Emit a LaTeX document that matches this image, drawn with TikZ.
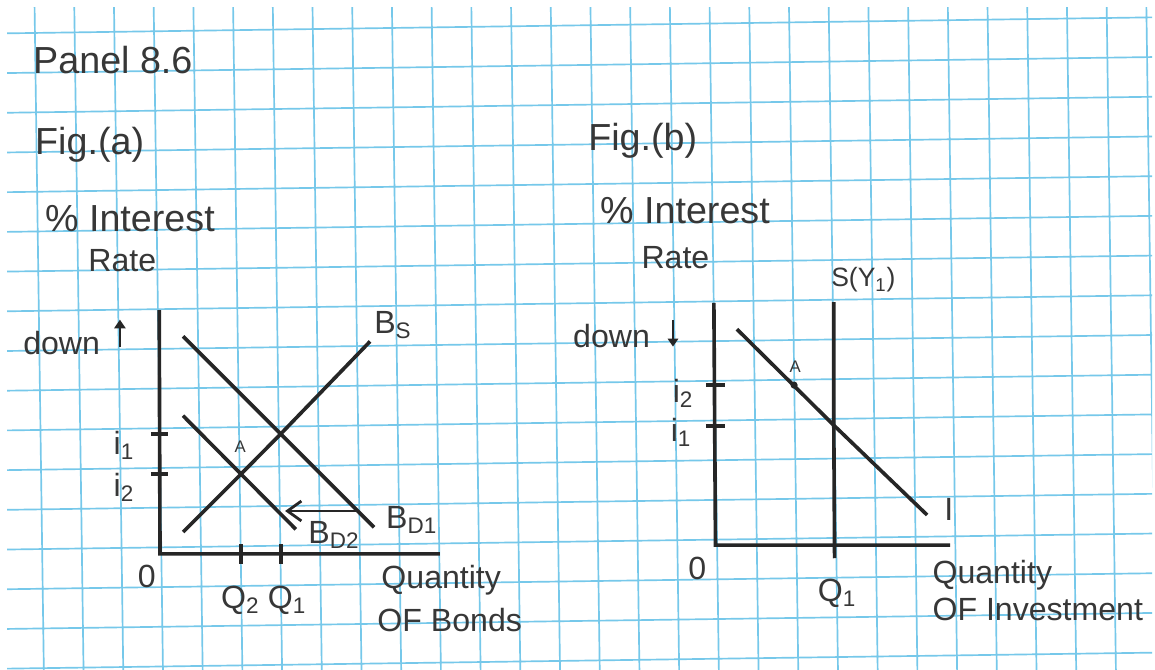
\documentclass[tikz,border=0pt]{standalone}
\usepackage{fontspec}
\setmainfont{Liberation Sans}
\usepackage{xcolor}
\usepackage{tikz}
\usetikzlibrary{arrows.meta}
\definecolor{ink}{RGB}{38,38,38}
\definecolor{pen}{RGB}{55,55,55}
\definecolor{gridblue}{RGB}{118,200,234}

\begin{document}
\begin{tikzpicture}[
    axisline/.style={draw=ink, line width=2.6pt},
    schedule/.style={draw=ink, line width=2.6pt},
    ttl/.style={text=pen, font=\fontsize{27}{29}\selectfont, inner sep=0pt},
    lbl/.style={text=pen, font=\fontsize{23}{25}\selectfont, inner sep=0pt},
    ptlabel/.style={text=pen, font=\fontsize{12}{13}\selectfont, inner sep=0pt}]
    % Graph paper
    \useasboundingbox (0,0) rectangle (29.09,16.85);
    \fill[white] (0,0) rectangle (29.09,16.85);
    \begin{scope}
      \clip (0.18,0) rectangle (29.02,16.65);
      \draw[gridblue, line width=1.2pt, rotate around={0.8:(0.88,16.02)}, xshift=0.88cm, yshift=0.02cm] (-3,-3) grid (31,19);
    \end{scope}
    % Headings
    \node[ttl, anchor=base west] (title) at (0.83,15.01) {Panel 8.6};
    \node[ttl, anchor=base west] (figa) at (0.88,12.95) {Fig.(a)};
    \node[ttl, anchor=base west] (ratea) at (1.13,11.01) {\% Interest};
    \node[lbl, anchor=base west] (rateb) at (2.22,10.00) {Rate};
    % Fig. (a) axes
    \coordinate (Oa) at (4.03,2.90);
    \coordinate (Ya) at (4.01,9.04);
    \coordinate (Xa) at (11.08,2.90);
    \draw[axisline] (Ya) -- (Oa) -- (Xa);
    \coordinate (E1) at (7.07,5.92);
    \coordinate (E2) at (6.07,4.91);
    \draw[axisline] (3.80,5.92) -- (4.24,5.92);
    \draw[axisline] (3.80,4.91) -- (4.24,4.91);
    \draw[axisline] (6.07,3.14) -- (6.07,2.65);
    \draw[axisline] (7.07,3.14) -- (7.07,2.65);
    % Bond supply and demand
    \draw[schedule] (4.61,3.45) -- (E2) -- (E1) -- (9.32,8.25);
    \draw[schedule] (4.61,8.38) -- (E1) -- (9.42,3.57);
    \draw[schedule] (4.61,6.38) -- (E2) -- (7.45,3.52);
    \draw[ink, line width=2pt, -{Straight Barb[length=3.5mm,width=5mm]}] (9.05,3.98) -- (7.18,3.98);
    \node[lbl, anchor=base west] (bs) at (9.42,8.46) {B\textsubscript{S}};
    \node[lbl, anchor=base west] (bd1) at (9.72,3.55) {B\textsubscript{D1}};
    \node[lbl, anchor=base west] (bd2) at (7.76,3.17) {B\textsubscript{D2}};
    \node[ptlabel] (pa) at (6.05,5.59) {A};
    % Fig. (a) axis labels
    \node[lbl, anchor=base west] (downa) at (0.58,7.91) {down};
    \draw[ink, line width=2pt, -{Triangle[length=2.2mm,width=2.8mm]}] (3.02,8.12) -- (3.02,8.80);
    \node[lbl] (ia1) at (3.12,5.64) {i\textsubscript{1}};
    \node[lbl] (ia2) at (3.12,4.58) {i\textsubscript{2}};
    \node[lbl] (zeroa) at (3.70,2.32) {0};
    \node[lbl] (qa2) at (6.05,1.74) {Q\textsubscript{2}};
    \node[lbl] (qa1) at (7.23,1.74) {Q\textsubscript{1}};
    \node[lbl, anchor=west] (quanta) at (9.60,2.24) {Quantity};
    \node[lbl, anchor=west] (bonds) at (9.50,1.23) {OF Bonds};
    % Fig. (b)
    \node[ttl, anchor=base west] (figb) at (14.81,13.07) {Fig.(b)};
    \node[ttl, anchor=base west] (rateba) at (15.11,11.21) {\% Interest};
    \node[lbl, anchor=base west] (ratebb) at (16.15,10.10) {Rate};
    \coordinate (Ob) at (18.02,3.12);
    \coordinate (Yb) at (17.98,9.22);
    \coordinate (Xb) at (23.93,3.12);
    \draw[axisline] (Yb) -- (Ob) -- (Xb);
    \draw[axisline] (17.78,7.15) -- (18.26,7.15);
    \draw[axisline] (17.78,6.12) -- (18.26,6.12);
    % Saving and investment
    \coordinate (Eb) at (21.00,6.14);
    \draw[schedule] (21.00,9.24) -- (Eb) -- (21.02,2.79);
    \draw[schedule] (18.56,8.56) -- (Eb) -- (23.35,3.88);
    \fill[ink] (20.00,7.15) circle (0.09);
    \node[ptlabel] (pb) at (20.03,7.61) {A};
    \node[text=pen, font=\fontsize{19}{21}\selectfont, inner sep=0pt, anchor=west] (sy) at (20.93,9.80) {S(Y\textsubscript{1})};
    \node[lbl] (inv) at (23.90,4.03) {I};
    \node[lbl, anchor=base west] (downb) at (14.43,8.11) {down};
    \draw[ink, line width=2pt, -{Triangle[length=2mm,width=2.6mm]}] (16.95,8.78) -- (16.95,8.12);
    \node[lbl] (ib2) at (17.20,6.95) {i\textsubscript{2}};
    \node[lbl] (ib1) at (17.15,5.97) {i\textsubscript{1}};
    \node[lbl] (zerob) at (17.56,2.54) {0};
    \node[lbl] (qb1) at (21.08,1.91) {Q\textsubscript{1}};
    \node[lbl, anchor=west] (quantb) at (23.48,2.37) {Quantity};
    \node[lbl, anchor=west] (invest) at (23.48,1.49) {OF Investment};
  \end{tikzpicture}
\end{document}
